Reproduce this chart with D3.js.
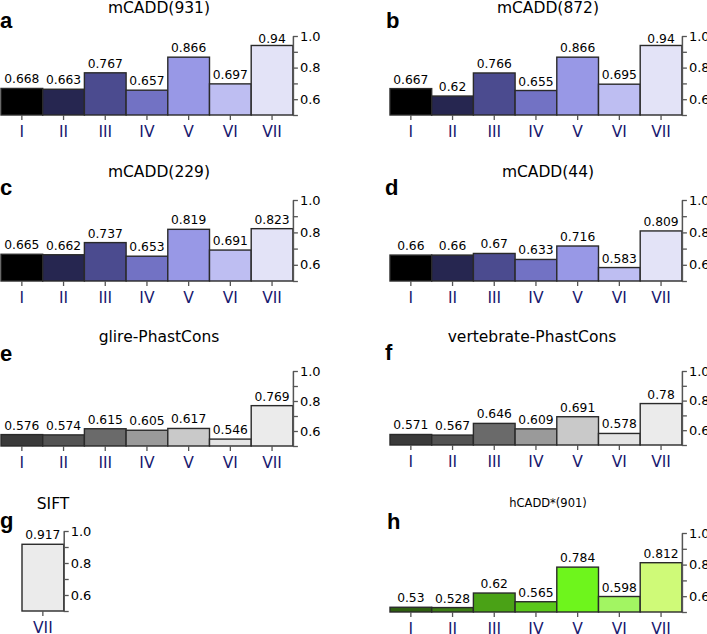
<!DOCTYPE html>
<html>
<head>
<meta charset="utf-8">
<script src="https://cdn.jsdelivr.net/npm/d3@7/dist/d3.min.js"></script>
<style>
  html, body { margin: 0; padding: 0; background: #fff; }
  svg { display: block; }
</style>
</head>
<body>
<svg id="chart" width="707" height="634"></svg>
<script>
// ---- data ----
const categories = ["I", "II", "III", "IV", "V", "VI", "VII"];
const siftCategories = ["VII"];
const yTicks = [0.5, 0.6, 0.7, 0.8, 0.9, 1.0];
const yTickLabels = ["", "0.6", "", "0.8", "", "1.0"];

const mcadd931 = [0.668, 0.663, 0.767, 0.657, 0.866, 0.697, 0.94];
const mcadd872 = [0.667, 0.62, 0.766, 0.655, 0.866, 0.695, 0.94];
const mcadd229 = [0.665, 0.662, 0.737, 0.653, 0.819, 0.691, 0.823];
const mcadd44 = [0.66, 0.66, 0.67, 0.633, 0.716, 0.583, 0.809];
const glirePhastCons = [0.576, 0.574, 0.615, 0.605, 0.617, 0.546, 0.769];
const vertebratePhastCons = [0.571, 0.567, 0.646, 0.609, 0.691, 0.578, 0.78];
const sift = [0.917];
const hcadd901 = [0.53, 0.528, 0.62, 0.565, 0.784, 0.598, 0.812];

const purples = ["#000000", "#262650", "#4b4b8f", "#7272c4", "#9898e6", "#bebef2", "#e3e3f7"];
const grays = ["#3a3a3a", "#535353", "#6a6a6a", "#9a9a9a", "#c9c9c9", "#e4e4e4", "#ebebeb"];
const siftColors = ["#ebebeb"];
const greens = ["#2e5e10", "#3c7e14", "#4aa216", "#5ac81a", "#6ef51c", "#a2f562", "#cffa78"];

const titles = ["mCADD(931)", "mCADD(872)", "mCADD(229)", "mCADD(44)", "glire-PhastCons", "vertebrate-PhastCons", "SIFT", "hCADD*(901)"];
const letters = ["a", "b", "c", "d", "e", "f", "g", "h"];
const seriesList = [mcadd931, mcadd872, mcadd229, mcadd44, glirePhastCons, vertebratePhastCons, sift, hcadd901];
const catList = [categories, categories, categories, categories, categories, categories, siftCategories, categories];
const colorList = [purples, purples, purples, purples, grays, grays, siftColors, greens];

// ---- layout (positions only) ----
const layout = [
  { x0: 1,   top: 36,  base: 115, tx: 159, ty: 13,  lx: 0,   ly: 28,  ts: 15.5 },
  { x0: 390, top: 36,  base: 115, tx: 548, ty: 13,  lx: 386, ly: 28,  ts: 15.5 },
  { x0: 1,   top: 200, base: 281, tx: 159, ty: 177, lx: 0,   ly: 195, ts: 15.5 },
  { x0: 390, top: 200, base: 281, tx: 548, ty: 177, lx: 385, ly: 195, ts: 15.5 },
  { x0: 1,   top: 371, base: 446, tx: 159, ty: 342, lx: 0,   ly: 361, ts: 15.5 },
  { x0: 390, top: 371, base: 445, tx: 532, ty: 342, lx: 385, ly: 360, ts: 15.5 },
  { x0: 22,  top: 531, base: 611, tx: 53,  ty: 509, lx: 0,   ly: 528, ts: 15.5 },
  { x0: 390, top: 533, base: 612, tx: 548, ty: 507, lx: 387, ly: 529, ts: 11.5 }
];
const barW = 41.7;

const svg = d3.select("#chart");

seriesList.forEach((vals, i) => {
  const L = layout[i];
  const cats = catList[i];
  const cols = colorList[i];
  const g = svg.append("g");

  const x = d3.scaleBand().domain(cats).range([L.x0, L.x0 + barW * cats.length]).padding(0);
  const y = d3.scaleLinear().domain([0.5, 1.0]).range([L.base, L.top]);
  const axisX = L.x0 + barW * cats.length;

  // bars
  g.selectAll("rect.bar").data(vals).enter().append("rect")
    .attr("class", "bar")
    .attr("x", (d, j) => x(cats[j]))
    .attr("width", x.bandwidth())
    .attr("y", d => y(d))
    .attr("height", d => y(0.5) - y(d))
    .attr("fill", (d, j) => cols[j])
    .attr("stroke", "#2a2a2a")
    .attr("stroke-width", 1.4);

  // value labels
  g.selectAll("text.val").data(vals).enter().append("text")
    .attr("class", "val")
    .attr("x", (d, j) => x(cats[j]) + x.bandwidth() / 2)
    .attr("y", d => Math.max(y(d) - 5, L.top + 7))
    .attr("text-anchor", "middle")
    .attr("font-family", "DejaVu Sans, sans-serif")
    .attr("font-size", 12.3)
    .attr("fill", "#000")
    .text(d => String(d));

  // x axis
  const xAxis = d3.axisBottom(x).tickSize(5).tickPadding(6).tickSizeOuter(0);
  const gx = g.append("g").attr("transform", `translate(0,${L.base})`).call(xAxis);
  gx.select(".domain").remove();
  gx.selectAll(".tick line").attr("stroke", "#555").attr("stroke-width", 1.3);
  gx.selectAll(".tick text")
    .attr("font-family", "DejaVu Sans, sans-serif")
    .attr("font-size", 15.5)
    .attr("fill", "#191970")
    .attr("dy", "0.71em");

  // y axis (right)
  const yAxis = d3.axisRight(y).tickValues(yTicks).tickSize(5).tickSizeOuter(0).tickPadding(2)
    .tickFormat((d, k) => yTickLabels[k]);
  const gy = g.append("g").attr("transform", `translate(${axisX},0)`).call(yAxis);
  gy.select(".domain").attr("stroke", "#555").attr("stroke-width", 1.5);
  gy.selectAll(".tick line").attr("stroke", "#555").attr("stroke-width", 1.3);
  gy.selectAll(".tick text")
    .attr("font-family", "DejaVu Sans, sans-serif")
    .attr("font-size", 13)
    .attr("fill", "#000");

  // title
  g.append("text")
    .attr("x", L.tx).attr("y", L.ty)
    .attr("text-anchor", "middle")
    .attr("font-family", "DejaVu Sans, sans-serif")
    .attr("font-size", L.ts)
    .attr("fill", "#000")
    .text(titles[i]);

  // panel letter
  g.append("text")
    .attr("x", L.lx).attr("y", L.ly)
    .attr("font-family", "Liberation Sans, Arial, sans-serif")
    .attr("font-weight", "bold")
    .attr("font-size", 22)
    .attr("fill", "#000")
    .text(letters[i]);
});
</script>
</body>
</html>
